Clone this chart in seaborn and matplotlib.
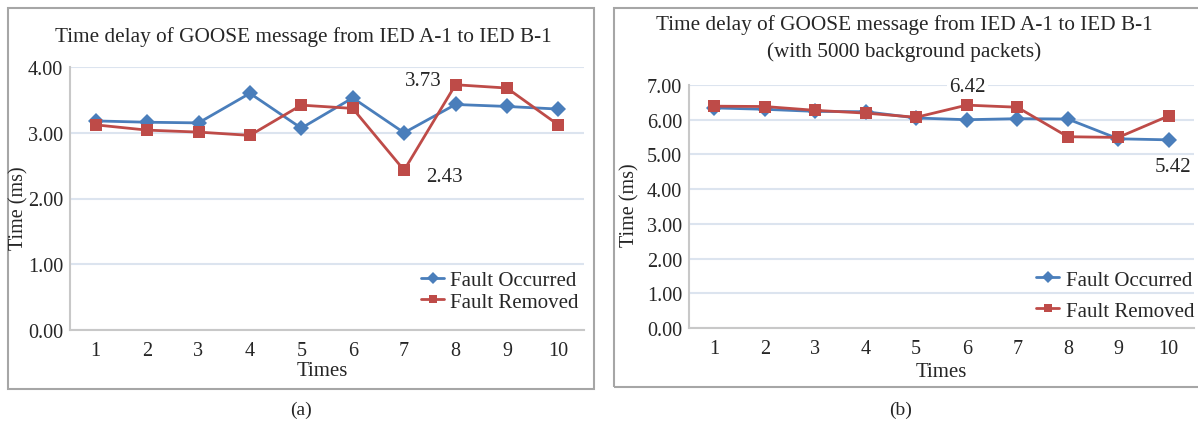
import matplotlib
matplotlib.use('Agg')
import matplotlib.pyplot as plt
import pandas as pd
import seaborn as sns
from matplotlib.patches import Rectangle

# data
times = list(range(1, 11))
series_names = ['Fault Occurred', 'Fault Removed']

occurred_a = [3.18, 3.16, 3.15, 3.60, 3.07, 3.53, 3.00, 3.43, 3.40, 3.36]
removed_a = [3.12, 3.04, 3.01, 2.96, 3.42, 3.37, 2.43, 3.73, 3.68, 3.12]

occurred_b = [6.34, 6.30, 6.24, 6.23, 6.05, 6.00, 6.03, 6.02, 5.45, 5.42]
removed_b = [6.39, 6.38, 6.27, 6.19, 6.07, 6.42, 6.36, 5.51, 5.49, 6.11]

title_a = 'Time delay of GOOSE message from IED A-1 to IED B-1'
title_b1 = 'Time delay of GOOSE message from IED A-1 to IED B-1'
title_b2 = '(with 5000 background packets)'

sns.set_theme(style='white')
plt.rcParams['font.family'] = ['Liberation Serif', 'DejaVu Serif']

W, H = 1198, 427
fig = plt.figure(figsize=(W / 100, H / 100), dpi=100)

blue = '#4A7EBB'
red = '#BE4B48'
grid_c = '#DCE4EF'
spine_c = '#C8C8C8'


def px_axes(l, t, r, b):
    return fig.add_axes([l / W, 1 - b / H, (r - l) / W, (b - t) / H])


def draw_panel(ax, occ, rem, ymax, leg_anchor, leg_space):
    df = pd.DataFrame({
        'Times': times * 2,
        'Time (ms)': occ + rem,
        'series': [series_names[0]] * len(times) + [series_names[1]] * len(times),
    })
    sns.lineplot(data=df, x='Times', y='Time (ms)', hue='series', style='series',
                 palette={series_names[0]: blue, series_names[1]: red},
                 markers={series_names[0]: 'D', series_names[1]: 's'},
                 dashes=False, linewidth=2, markersize=8, markeredgewidth=0, ax=ax)
    ax.set_xlim(0.5, 10.5)
    ax.set_ylim(0, ymax)
    ax.set_xticks(times)
    ax.set_yticks(range(0, ymax + 1))
    ax.set_yticklabels([f'{v:.2f}' for v in range(0, ymax + 1)])
    ax.yaxis.grid(True, color=grid_c, linewidth=1.5)
    ax.set_axisbelow(True)
    ax.tick_params(axis='y', length=0, pad=5, labelsize=14.5)
    ax.tick_params(axis='x', length=0, pad=8, labelsize=14.5)
    for s in ['top', 'right']:
        ax.spines[s].set_visible(False)
    for s in ['left', 'bottom']:
        ax.spines[s].set_color(spine_c)
        ax.spines[s].set_linewidth(1.5)
    ax.set_xlabel('')
    ax.set_ylabel('')
    handles, labels = ax.get_legend_handles_labels()
    for h in handles:
        h.set_markersize(6)
    ax.legend(handles, labels, loc='lower right', bbox_to_anchor=leg_anchor,
              frameon=False, fontsize=15, handlelength=1.1, handletextpad=0.3,
              labelspacing=leg_space, borderpad=0, borderaxespad=0)


# panel frames
fig.add_artist(Rectangle((8 / W, 1 - 390 / H), 586 / W, 381 / H, transform=fig.transFigure,
                         fill=False, edgecolor='#A6A6A6', linewidth=1.5))
fig.add_artist(Rectangle((614 / W, 1 - 388 / H), 600 / W, 379 / H, transform=fig.transFigure,
                         fill=False, edgecolor='#A6A6A6', linewidth=1.5))

ax_a = px_axes(70, 68, 584, 331)
draw_panel(ax_a, occurred_a, removed_a, 4, (0.99, 0.07), 0.1)
ax_b = px_axes(689, 86, 1194, 329)
draw_panel(ax_b, occurred_b, removed_b, 7, (1.0, 0.03), 0.55)

# value labels
ax_a.annotate('3.73', (8, removed_a[7]), xytext=(-32, 4), textcoords='offset pixels',
              ha='center', va='center', fontsize=15)
ax_a.annotate('2.43', (7, removed_a[6]), xytext=(40, -6), textcoords='offset pixels',
              ha='center', va='center', fontsize=15)
ax_b.annotate('6.42', (6, removed_b[5]), xytext=(1, 19), textcoords='offset pixels',
              ha='center', va='center', fontsize=15,
              bbox=dict(boxstyle='square,pad=0.1', fc='white', ec='none'))
ax_b.annotate('5.42', (10, occurred_b[9]), xytext=(4, -27), textcoords='offset pixels',
              ha='center', va='center', fontsize=15)

# titles and axis labels
fig.text(303 / W, 1 - 37 / H, title_a, ha='center', va='center', fontsize=15.3)
fig.text(904 / W, 1 - 25 / H, title_b1, ha='center', va='center', fontsize=15.3)
fig.text(904 / W, 1 - 52 / H, title_b2, ha='center', va='center', fontsize=15.3)
fig.text(19 / W, 1 - 208 / H, 'Time (ms)', rotation=90, ha='center', va='center', fontsize=14.5)
fig.text(630 / W, 1 - 205 / H, 'Time (ms)', rotation=90, ha='center', va='center', fontsize=14.5)
fig.text(322 / W, 1 - 372 / H, 'Times', ha='center', va='center', fontsize=15)
fig.text(941 / W, 1 - 373 / H, 'Times', ha='center', va='center', fontsize=15)
fig.text(301 / W, 1 - 410 / H, '(a)', ha='center', va='center', fontsize=14)
fig.text(901 / W, 1 - 410 / H, '(b)', ha='center', va='center', fontsize=14)

fig.savefig('out.png', dpi=100)
